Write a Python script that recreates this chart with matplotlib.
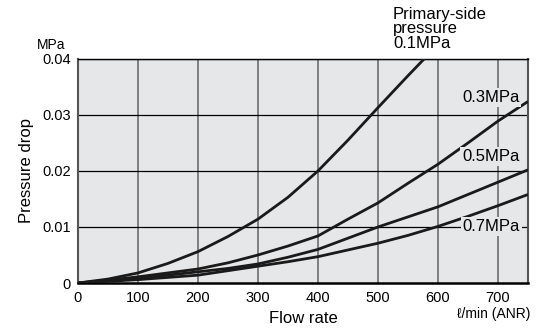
import matplotlib.pyplot as plt

plt.rcParams['font.family'] = ['Liberation Sans', 'DejaVu Sans']

# flow rate (l/min ANR)
flow = [0, 50, 100, 150, 200, 250, 300, 350, 400, 450, 500, 550, 577]
drop_01 = [0, 0.0007, 0.0018, 0.0035, 0.0056, 0.0083, 0.0114, 0.0153, 0.0200, 0.0255, 0.0313, 0.0370, 0.0400]

flow_b = [0, 50, 100, 150, 200, 250, 300, 350, 400, 450, 500, 550, 600, 650, 700, 750]
drop_03 = [0, 0.0005, 0.0011, 0.0018, 0.0025, 0.0036, 0.0050, 0.0066, 0.0084, 0.0114, 0.0143, 0.0178, 0.0212, 0.0250, 0.0289, 0.0324]
drop_05 = [0, 0.0004, 0.0008, 0.0014, 0.0020, 0.0026, 0.0034, 0.0046, 0.0060, 0.0080, 0.0100, 0.0118, 0.0136, 0.0158, 0.0180, 0.0202]
drop_07 = [0, 0.0003, 0.0006, 0.0010, 0.0014, 0.0022, 0.0030, 0.0038, 0.0047, 0.0059, 0.0071, 0.0085, 0.0101, 0.0119, 0.0138, 0.0158]

xticks = [0, 100, 200, 300, 400, 500, 600, 700]
yticks = [0, 0.01, 0.02, 0.03, 0.04]
ytick_labels = ['0', '0.01', '0.02', '0.03', '0.04']

bg = '#e6e7e9'

fig = plt.figure(figsize=(5.36, 3.31), dpi=100)
ax = fig.add_axes([0.1455, 0.145, 0.8395, 0.677])
ax.set_facecolor(bg)

for x in xticks[1:]:
    ax.axvline(x, color='#7f7f7f', lw=1.4, zorder=1)
for y in yticks[1:]:
    ax.axhline(y, color='black', lw=0.9, zorder=1)

for d, f in [(drop_01, flow), (drop_03, flow_b), (drop_05, flow_b), (drop_07, flow_b)]:
    ax.plot(f, d, color='#1a1a1a', lw=2.0, zorder=3, solid_capstyle='butt')

ax.set_xlim(0, 750)
ax.set_ylim(0, 0.04)
ax.set_xticks(xticks)
ax.set_yticks(yticks)
ax.set_yticklabels(ytick_labels)
ax.tick_params(length=0, labelsize=10.5)
ax.tick_params(axis='y', pad=5)
ax.tick_params(axis='x', pad=6)

for side in ['left', 'right']:
    ax.spines[side].set_color('#555555')
    ax.spines[side].set_linewidth(1.5)
ax.spines['top'].set_linewidth(1.0)
ax.spines['bottom'].set_linewidth(1.8)

box = dict(boxstyle='square,pad=0.12', facecolor=bg, edgecolor='none')
ax.text(640, 0.0332, '0.3MPa', fontsize=12, va='center', ha='left', bbox=box, zorder=4)
ax.text(640, 0.0225, '0.5MPa', fontsize=12, va='center', ha='left', bbox=box, zorder=4)
ax.text(641, 0.0100, '0.7MPa', fontsize=12, va='center', ha='left', bbox=box, zorder=4)
ax.text(525, 0.0415, 'Primary-side\npressure\n0.1MPa', fontsize=12, va='bottom', ha='left',
        linespacing=0.95, clip_on=False)

ax.text(-0.028, 1.06, 'MPa', transform=ax.transAxes, fontsize=10, ha='right', va='center')
ax.set_ylabel('Pressure drop', fontsize=12, labelpad=6)
ax.set_xlabel('Flow rate', fontsize=12, labelpad=4)
ax.text(1.005, -0.105, 'ℓ/min (ANR)', transform=ax.transAxes, fontsize=10, ha='right', va='top')

fig.savefig('out.png', dpi=100)
